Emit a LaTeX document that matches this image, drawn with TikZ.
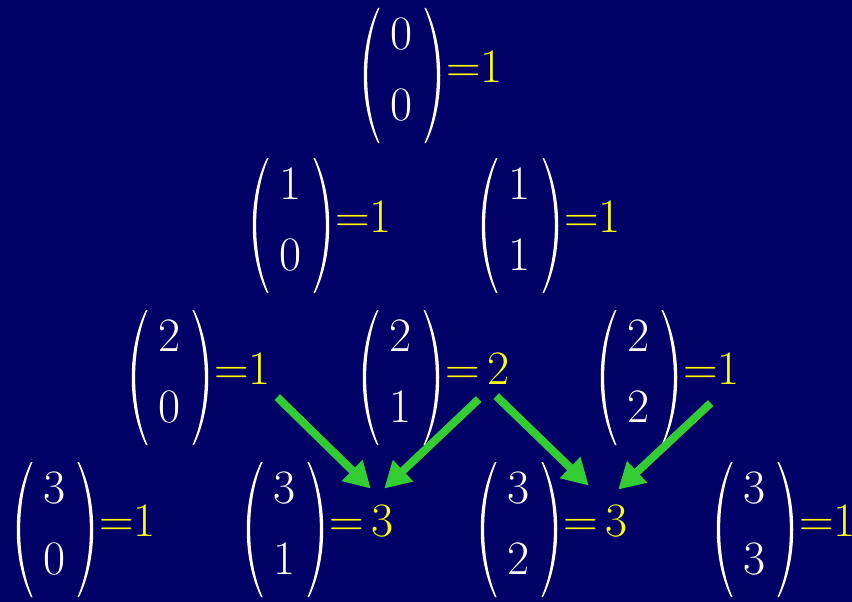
\documentclass[tikz,border=0pt]{standalone}
\usepackage{fontspec}
\usepackage{tikz}
\usetikzlibrary{arrows.meta,positioning}
\definecolor{bgc}{HTML}{000066}
\definecolor{valc}{HTML}{FFFF00}
\definecolor{arrowc}{HTML}{33CC33}
\newcommand{\stk}[2]{\begin{tabular}{c}#1\\[13pt]#2\end{tabular}}

\begin{document}
\begin{tikzpicture}[x=1pt,y=-1pt,node distance=27pt,every node/.style={font=\fontsize{48}{58}\selectfont,inner sep=0pt}]
\tikzstyle{coef}=[text=white]
\tikzstyle{val}=[text=valc,yshift=6pt]
\tikzstyle{arr}=[draw=arrowc,line width=8pt,-{Triangle[length=26pt,width=28pt]}]
\fill[bgc] (0,0) rectangle (852,602);
\useasboundingbox (0,0) rectangle (852,602);
% row 0
\node[coef] (b00) at (402,73) {\stk{0}{0}};
\node[val,right=of b00] (v00) {=1};
% row 1
\node[coef] (b10) at (291,223) {\stk{1}{0}};
\node[val,right=of b10] (v10) {=1};
\node[coef] (b11) at (520,223) {\stk{1}{1}};
\node[val,right=of b11] (v11) {=1};
% row 2
\node[coef] (b20) at (170,375) {\stk{2}{0}};
\node[val,right=of b20] (v20) {=1};
\node[coef] (b21) at (401,375) {\stk{2}{1}};
\node[val,right=of b21] (v21) {=\,2};
\node[coef] (b22) at (639,375) {\stk{2}{2}};
\node[val,right=of b22] (v22) {=1};
% row 3
\node[coef] (b30) at (55,527) {\stk{3}{0}};
\node[val,right=of b30] (v30) {=1};
\node[coef] (b31) at (285,527) {\stk{3}{1}};
\node[val,right=of b31] (v31) {=\,3};
\node[coef] (b32) at (519,527) {\stk{3}{2}};
\node[val,right=of b32] (v32) {=\,3};
\node[coef] (b33) at (755,527) {\stk{3}{3}};
\node[val,right=of b33] (v33) {=1};
% parentheses round each coefficient
\foreach \b in {b00,b10,b11,b20,b21,b22,b30,b31,b32,b33}{
  \coordinate (lt) at ([shift={(-24,-65)}]\b.center);
  \coordinate (lb) at ([shift={(-24,70)}]\b.center);
  \coordinate (rt) at ([shift={(24,-65)}]\b.center);
  \coordinate (rb) at ([shift={(24,70)}]\b.center);
  \fill[white] (lt) .. controls +(-19,38) and +(-19,-38) .. (lb) -- ([xshift=1.5pt]lb)
    .. controls +(-16.5,-38) and +(-16.5,38) .. ([xshift=1.5pt]lt) -- cycle;
  \fill[white] (rt) .. controls +(19,38) and +(19,-38) .. (rb) -- ([xshift=-1.5pt]rb)
    .. controls +(16.5,-38) and +(16.5,38) .. ([xshift=-1.5pt]rt) -- cycle;
}
% arrows into the row below
\draw[arr] ([shift={(6,12)}]v20.south east) -- ([shift={(9,-16)}]v31.north);
\draw[arr] ([shift={(1,14)}]v21.south) -- ([shift={(-10,-16)}]v31.north east);
\draw[arr] ([shift={(-14,11)}]v21.south east) -- ([shift={(-7,-19)}]v32.north);
\draw[arr] ([shift={(-1,18)}]v22.south) -- ([shift={(-10,-15)}]v32.north east);
\end{tikzpicture}
\end{document}
